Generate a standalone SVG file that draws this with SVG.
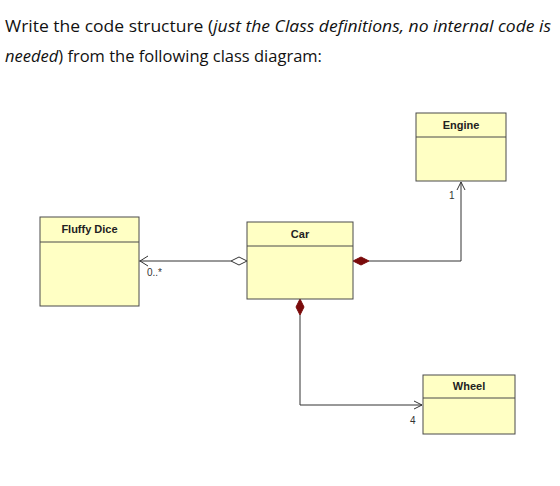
<svg xmlns="http://www.w3.org/2000/svg" width="560" height="486" viewBox="0 0 560 486">
<style>
.hdr{font-family:"Open Sans","Liberation Sans",sans-serif;font-size:16.5px;fill:#111}
.it{font-style:italic}
.box{fill:#ffffc4;stroke:#4a4a4a;stroke-width:1}
.sep{stroke:#4a4a4a;stroke-width:1}
.name{font-family:"Liberation Sans Narrow","Liberation Sans",sans-serif;font-size:11px;font-weight:bold;fill:#222;text-anchor:middle}
.ln{fill:none;stroke:#333;stroke-width:1}
.comp{fill:#7a0a0a;stroke:#7a0a0a;stroke-width:1}
.agg{fill:#fff;stroke:#333;stroke-width:1}
.mult{font-family:"Liberation Sans",sans-serif;font-size:10px;fill:#333}
</style>
<rect width="560" height="486" fill="#fff"/>
<text class="hdr" x="5" y="32" textLength="546" lengthAdjust="spacingAndGlyphs">Write the code structure (<tspan class="it">just the Class definitions, no internal code is</tspan></text>
<text class="hdr" x="5" y="62"><tspan class="it">needed</tspan>) from the following class diagram:</text>

<g id="connectors">
  <g id="agg-fluffy">
    <line class="ln" x1="139" y1="261" x2="231" y2="261"/>
    <polyline class="ln" points="148,256 140,261 148,266"/>
    <polygon class="agg" points="231,261 239,257 247,261 239,265"/>
    <text class="mult" x="147" y="276">0..*</text>
  </g>
  <g id="comp-engine">
    <polyline class="ln" points="369,261 461,261 461,182"/>
    <polygon class="comp" points="353,261 361,257 369,261 361,265"/>
    <polyline class="ln" points="457,190 461,182 465,190"/>
    <text class="mult" x="449" y="199">1</text>
  </g>
  <g id="comp-wheel">
    <polyline class="ln" points="300,315 300,405 422,405"/>
    <polygon class="comp" points="300,299 304,307 300,315 296,307"/>
    <polyline class="ln" points="414,401 422,405 414,409"/>
    <text class="mult" x="410" y="424">4</text>
  </g>
</g>

<g id="fluffy-dice">
  <rect class="box" x="40" y="217" width="99" height="89"/>
  <line class="sep" x1="40" y1="242" x2="139" y2="242"/>
  <text class="name" x="89.5" y="233">Fluffy Dice</text>
</g>
<g id="car">
  <rect class="box" x="247" y="222" width="106" height="77"/>
  <line class="sep" x1="247" y1="246" x2="353" y2="246"/>
  <text class="name" x="300" y="238">Car</text>
</g>
<g id="engine">
  <rect class="box" x="416" y="113" width="90" height="68"/>
  <line class="sep" x1="416" y1="137" x2="506" y2="137"/>
  <text class="name" x="461" y="129">Engine</text>
</g>
<g id="wheel">
  <rect class="box" x="423" y="375" width="92" height="59"/>
  <line class="sep" x1="423" y1="398" x2="515" y2="398"/>
  <text class="name" x="469" y="390">Wheel</text>
</g>
</svg>
